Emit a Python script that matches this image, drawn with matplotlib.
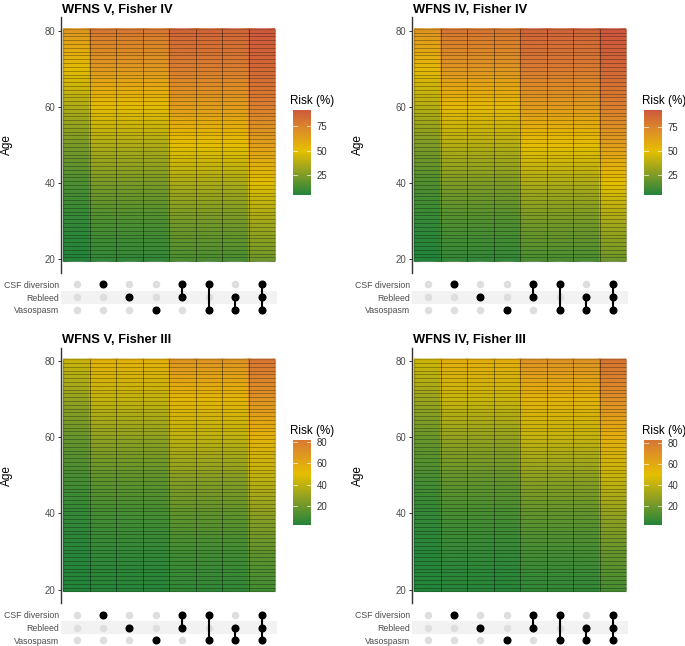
import numpy as np
import matplotlib
matplotlib.use("Agg")
import matplotlib.pyplot as plt
from matplotlib.colors import LinearSegmentedColormap, ListedColormap, Normalize
from matplotlib.cm import ScalarMappable
from matplotlib.patches import Rectangle

plt.rcParams['font.family'] = ['Liberation Sans', 'DejaVu Sans']

# ---------------- data ----------------
ages = [20, 30, 40, 50, 60, 70, 80]
factors = ["CSF diversion", "Rebleed", "Vasospasm"]
combos = [[], ["CSF diversion"], ["Rebleed"], ["Vasospasm"],
          ["CSF diversion", "Rebleed"], ["CSF diversion", "Vasospasm"],
          ["Rebleed", "Vasospasm"], ["CSF diversion", "Rebleed", "Vasospasm"]]
titles = ["WFNS V, Fisher IV", "WFNS IV, Fisher IV", "WFNS V, Fisher III", "WFNS IV, Fisher III"]

# risk (%) per combination (columns) at the ages above
risk_v_iv = [
    [4.6, 8.2, 14.2, 23.5, 36.4, 51.5, 66.4],
    [8.2, 14.2, 23.5, 36.4, 51.5, 66.4, 78.6],
    [8.2, 14.2, 23.5, 36.4, 51.5, 66.4, 78.6],
    [8.2, 14.2, 23.5, 36.4, 51.5, 66.4, 78.6],
    [13.5, 22.4, 35.0, 50.0, 65.0, 77.6, 86.5],
    [13.5, 22.4, 35.0, 50.0, 65.0, 77.6, 86.5],
    [13.5, 22.4, 35.0, 50.0, 65.0, 77.6, 86.5],
    [21.4, 33.6, 48.5, 63.6, 76.5, 85.8, 91.8],
]
risk_iv_iv = [
    [4.9, 8.7, 15.0, 24.7, 37.8, 53.1, 67.8],
    [8.7, 15.0, 24.7, 37.8, 53.1, 67.8, 79.6],
    [8.7, 15.0, 24.7, 37.8, 53.1, 67.8, 79.6],
    [8.7, 15.0, 24.7, 37.8, 53.1, 67.8, 79.6],
    [13.8, 23.0, 35.7, 50.8, 65.7, 78.1, 86.9],
    [13.8, 23.0, 35.7, 50.8, 65.7, 78.1, 86.9],
    [13.8, 23.0, 35.7, 50.8, 65.7, 78.1, 86.9],
    [21.9, 34.3, 49.2, 64.3, 77.0, 86.2, 92.0],
]
risk_v_iii = [
    [1.9, 3.4, 6.0, 10.6, 17.9, 28.6, 42.4],
    [3.2, 5.7, 10.0, 17.0, 27.4, 40.9, 56.1],
    [3.2, 5.7, 10.0, 17.0, 27.4, 40.9, 56.1],
    [3.2, 5.7, 10.0, 17.0, 27.4, 40.9, 56.1],
    [5.4, 9.5, 16.2, 26.2, 39.5, 54.6, 68.8],
    [5.4, 9.5, 16.2, 26.2, 39.5, 54.6, 68.8],
    [5.4, 9.5, 16.2, 26.2, 39.5, 54.6, 68.8],
    [9.8, 16.7, 27.0, 40.5, 55.8, 70.0, 81.3],
]
risk_iv_iii = [
    [2.0, 3.6, 6.4, 11.2, 18.8, 29.9, 43.9],
    [3.4, 6.0, 10.6, 17.9, 28.6, 42.4, 57.6],
    [3.4, 6.0, 10.6, 17.9, 28.6, 42.4, 57.6],
    [3.4, 6.0, 10.6, 17.9, 28.6, 42.4, 57.6],
    [5.7, 10.0, 17.0, 27.4, 40.9, 56.1, 70.1],
    [5.7, 10.0, 17.0, 27.4, 40.9, 56.1, 70.1],
    [5.7, 10.0, 17.0, 27.4, 40.9, 56.1, 70.1],
    [10.5, 17.8, 28.5, 42.3, 57.5, 71.5, 82.5],
]
panels = [risk_v_iv, risk_iv_iv, risk_v_iii, risk_iv_iii]
cbar_ticks = [[25, 50, 75], [25, 50, 75], [20, 40, 60, 80], [20, 40, 60, 80]]

# ---------------- style ----------------
W, H = 685, 646
fig = plt.figure(figsize=(W / 100, H / 100), dpi=100)
full_cmap = LinearSegmentedColormap.from_list(
    "risk", [(0.0, "#23843a"), (0.25, "#8a9e24"), (0.5, "#e6bf00"), (0.75, "#dc8a2a"), (1.0, "#cb513f")])
TXT = "#4d4d4d"


def px_axes(x0, y0, x1, y1):
    return fig.add_axes([x0 / W, 1 - y1 / H, (x1 - x0) / W, (y1 - y0) / H])


offsets = [(0, 0), (351, 0), (0, 330.3), (351, 330.3)]
ncol = len(combos)

for p, (dx, dy) in enumerate(offsets):
    data = np.array(panels[p], dtype=float)
    vmin, vmax = data.min(), data.max()
    D = max(50 - vmin, vmax - 50)
    tmin = 0.5 + (vmin - 50) / (2 * D)
    tmax = 0.5 + (vmax - 50) / (2 * D)
    cmap = ListedColormap(full_cmap(np.linspace(tmin, tmax, 256)))
    norm = Normalize(vmin=vmin, vmax=vmax)

    # heatmap
    ax = px_axes(61 + dx, 17.2 + dy, 277 + dx, 272.8 + dy)
    yy = np.array([ages[0] - 0.5] + ages + [ages[-1] + 0.5], dtype=float)
    for i in range(ncol):
        col = data[i]
        cc = np.concatenate([[col[0]], col, [col[-1]]])
        X = np.array([[i - 0.5, i + 0.5]] * len(yy))
        Y = np.column_stack([yy, yy])
        C = np.column_stack([cc, cc])
        ax.pcolormesh(X, Y, C, shading='gouraud', cmap=cmap, norm=norm)
    ax.hlines(np.arange(ages[0] + 0.5, ages[-1] + 0.5, 1), -0.5, ncol - 0.5,
              colors='black', alpha=0.38, lw=0.55)
    ax.vlines(np.arange(0.5, ncol - 0.5, 1), ages[0] - 0.5, ages[-1] + 0.5,
              colors='black', alpha=0.45, lw=0.65)
    ax.add_patch(Rectangle((-0.5, ages[0] - 0.5), ncol, ages[-1] - ages[0] + 1,
                           fill=False, ec='black', alpha=0.18, lw=1.0))
    ax.set_xlim(-0.587, ncol - 0.424)
    ax.set_ylim(16.45, 83.55)
    for s in ['top', 'right', 'bottom']:
        ax.spines[s].set_visible(False)
    ax.spines['left'].set_color('#333333')
    ax.spines['left'].set_linewidth(1.0)
    ax.set_xticks([])
    ax.set_yticks([20, 40, 60, 80])
    ax.tick_params(axis='y', length=2.5, width=0.7, color='#333333',
                   labelsize=6.9, labelcolor=TXT, pad=1.5)
    ax.set_facecolor('none')

    # title & y label
    fig.text((62 + dx) / W, 1 - (12.7 + dy) / H, titles[p], fontsize=9.3,
             fontweight='bold', ha='left', va='baseline', color='black')
    fig.text((6.5 + dx) / W, 1 - (145 + dy) / H, "Age", fontsize=8.5, rotation=90,
             ha='center', va='center', color='black')

    # combination matrix
    mx = px_axes(61 + dx, 278 + dy, 277 + dx, 316.4 + dy)
    mx.set_xlim(-0.587, ncol - 0.424)
    mx.set_ylim(len(factors) - 0.5, -0.5)
    mx.axhspan(0.5, 1.5, color='#f2f2f2', lw=0, zorder=0)
    for i, members in enumerate(combos):
        idx = [factors.index(m) for m in members]
        for j in range(len(factors)):
            if j in idx:
                mx.plot(i, j, 'o', ms=4.8, color='black', zorder=3)
            else:
                mx.plot(i, j, 'o', ms=4.4, color='#dedede', zorder=2)
        if len(idx) > 1:
            mx.plot([i, i], [min(idx), max(idx)], color='black', lw=1.5, zorder=3)
    mx.set_xticks([])
    mx.set_yticks(range(len(factors)))
    mx.set_yticklabels(factors)
    mx.tick_params(axis='y', length=0, labelsize=6.3, labelcolor=TXT, pad=1.5)
    for s in mx.spines.values():
        s.set_visible(False)
    mx.set_facecolor('none')

    # colorbar
    cax = px_axes(293 + dx, 110 + dy, 310.7 + dx, 195 + dy)
    cb = fig.colorbar(ScalarMappable(norm=norm, cmap=cmap), cax=cax)
    cb.outline.set_visible(False)
    cb.set_ticks(cbar_ticks[p])
    cax.tick_params(length=0, labelsize=6.9, labelcolor='#333333', pad=4)
    tr = cax.get_yaxis_transform()
    for t in cbar_ticks[p]:
        cax.plot([0, 0.2], [t, t], color='white', lw=0.6, alpha=0.8, transform=tr)
        cax.plot([0.8, 1.0], [t, t], color='white', lw=0.6, alpha=0.8, transform=tr)
    fig.text((290.5 + dx) / W, 1 - (101 + dy) / H, "Risk (%)", fontsize=8.4,
             ha='left', va='center', color='black')

fig.savefig("out.png", dpi=100)
